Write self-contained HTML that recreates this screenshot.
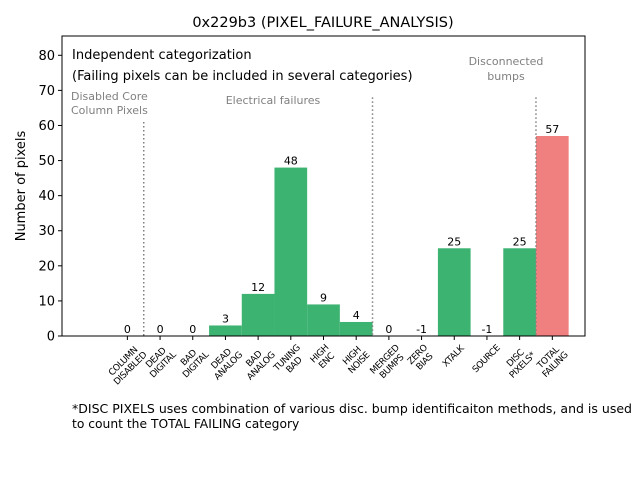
<!DOCTYPE html>
<html><head><meta charset="utf-8"><style>
body{margin:0;background:#fff;font-family:"DejaVu Sans","Liberation Sans",sans-serif;}
</style></head><body>
<svg id="chart" width="640" height="480" xmlns="http://www.w3.org/2000/svg" font-family="DejaVu Sans, Liberation Sans, sans-serif" style="position:absolute;left:0;top:0">
<defs><clipPath id="pc"><rect x="62" y="36" width="523" height="300"/></clipPath></defs>
<rect width="640" height="480" fill="#fff"/>
<text x="323" y="27" font-size="14.5" text-anchor="middle">0x229b3 (PIXEL_FAILURE_ANALYSIS)</text>
<g id="bars" clip-path="url(#pc)"></g>
<g id="marks"></g>
<rect x="62" y="36" width="523" height="300" fill="none" stroke="#000" stroke-width="1"/>
<g id="yaxis"></g>
<g id="xaxis"></g>
<text transform="translate(25,186) rotate(-90)" font-size="13" text-anchor="middle">Number of pixels</text>
<text x="72" y="59" font-size="13">Independent categorization</text>
<text x="72" y="80" font-size="13">(Failing pixels can be included in several categories)</text>
<text x="71" y="100" font-size="11" fill="#808080">Disabled Core</text>
<text x="71" y="114" font-size="11" fill="#808080">Column Pixels</text>
<text x="273" y="104" font-size="11" fill="#808080" text-anchor="middle">Electrical failures</text>
<text x="506" y="65" font-size="11" fill="#808080" text-anchor="middle">Disconnected</text>
<text x="506" y="80" font-size="11" fill="#808080" text-anchor="middle">bumps</text>
<text x="72" y="413" font-size="12.3" textLength="560" lengthAdjust="spacingAndGlyphs">*DISC PIXELS uses combination of various disc. bump identificaiton methods, and is used</text>
<text x="72" y="428" font-size="12.3">to count the TOTAL FAILING category</text>
</svg>
<script>
const categories=[["COLUMN","DISABLED"],["DEAD","DIGITAL"],["BAD","DIGITAL"],["DEAD","ANALOG"],["BAD","ANALOG"],["TUNING","BAD"],["HIGH","ENC"],["HIGH","NOISE"],["MERGED","BUMPS"],["ZERO","BIAS"],["XTALK"],["SOURCE"],["DISC","PIXELS*"],["TOTAL","FAILING"]];
const values=[0,0,0,3,12,48,9,4,0,-1,25,-1,25,57];
const yTicks=[0,10,20,30,40,50,60,70,80];
const separators=[[0.5,61],[7.5,68],[12.5,68]];
const NS="http://www.w3.org/2000/svg";
const X0=62,X1=585,Y0=336,Y1=36,xmin=-2,xmax=14.0,ymin=0,ymax=85.5;
const xs=i=>X0+(i-xmin)/(xmax-xmin)*(X1-X0);
const ys=v=>Y0-(v-ymin)/(ymax-ymin)*(Y0-Y1);
const bw=(xs(1)-xs(0));
function mk(t,a,p){const e=document.createElementNS(NS,t);for(const k in a)e.setAttribute(k,a[k]);p.appendChild(e);return e;}
const bars=document.getElementById('bars'),marks=document.getElementById('marks'),ya=document.getElementById('yaxis'),xa=document.getElementById('xaxis');
values.forEach((v,i)=>{
  const top=Math.min(ys(v),ys(0)),h=Math.abs(ys(v)-ys(0));
  const r=mk('rect',{x:xs(i)-bw/2,y:top,width:bw,height:h,fill:i===13?'#f08080':'#3cb371'},bars);
  
  
  const t=mk('text',{x:xs(i),y:ys(Math.max(v,0))-3,'font-size':11,'text-anchor':'middle'},marks);
  t.textContent=v;
  
  
});
separators.forEach(s=>{
  const l=mk('line',{x1:xs(s[0]),x2:xs(s[0]),y1:ys(s[1]),y2:Y0,stroke:'#808080','stroke-width':1.5,'stroke-dasharray':'1.5,2.5'},marks);
  
  
});
yTicks.forEach(v=>{
  mk('line',{x1:X0-4,x2:X0,y1:ys(v),y2:ys(v),stroke:'#000'},ya);
  const t=mk('text',{x:X0-7,y:ys(v)+4.5,'font-size':13,'text-anchor':'end'},ya);
  t.textContent=v;
  
  
});
categories.forEach((c,i)=>{
  const x=xs(i);
  mk('line',{x1:x,x2:x,y1:Y0,y2:Y0+4,stroke:'#000'},xa);
  const outer=mk('g',{},xa);
  const g=mk('g',{transform:'rotate(-45)'},outer);
  
  
  const n=c.length;
  c.forEach((ln,j)=>{
    const t=mk('text',{x:0,y:(j-(n-1)/2)*10+3,'font-size':9,'text-anchor':'middle','letter-spacing':'-0.4'},g);
    t.textContent=ln;
  });
  const b=outer.getBoundingClientRect();
  const cx=(b.left+b.right)/2, top=b.top;
  outer.setAttribute('transform',`translate(${x-cx},${Y0+7-top})`);
});
</script>
</body></html>
